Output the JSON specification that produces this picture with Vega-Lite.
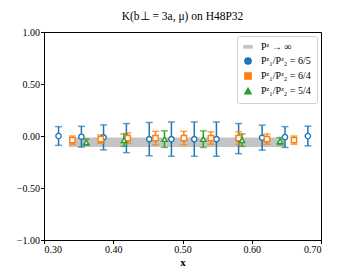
{
  "$schema": "https://vega.github.io/schema/vega-lite/v6.json",
  "width": 277,
  "height": 208,
  "autosize": {"type": "none"},
  "padding": {"left": 44, "top": 32, "right": 36, "bottom": 28},
  "config": {
    "font": "Liberation Serif",
    "view": {"stroke": "black", "strokeWidth": 1},
    "axis": {"labelFont": "Liberation Serif", "labelFontSize": 10, "labelColor": "black", "domainColor": "black", "tickColor": "black", "tickSize": 3.5, "labelPadding": 1, "grid": false, "titleFont": "Liberation Serif", "titleColor": "black", "titleFontWeight": "normal"}
  },
  "title": {"text": "K(b⊥ = 3a, μ) on H48P32", "fontSize": 11.5, "fontWeight": "normal", "font": "Liberation Serif", "color": "black", "offset": 5},
  "datasets": {
    "band": [{"series": "Pᶻ → ∞", "x": 0.336, "x2": 0.648, "lo": -0.105, "hi": -0.015}],
    "pts": [
      {"series": "Pᶻ₁/Pᶻ₂ = 6/5", "x": 0.321, "y": 0.0, "lo": -0.09, "hi": 0.09},
      {"series": "Pᶻ₁/Pᶻ₂ = 6/5", "x": 0.354, "y": -0.007, "lo": -0.107, "hi": 0.093},
      {"series": "Pᶻ₁/Pᶻ₂ = 6/5", "x": 0.386, "y": -0.013, "lo": -0.133, "hi": 0.107},
      {"series": "Pᶻ₁/Pᶻ₂ = 6/5", "x": 0.419, "y": -0.02, "lo": -0.16, "hi": 0.12},
      {"series": "Pᶻ₁/Pᶻ₂ = 6/5", "x": 0.452, "y": -0.03, "lo": -0.19, "hi": 0.13},
      {"series": "Pᶻ₁/Pᶻ₂ = 6/5", "x": 0.484, "y": -0.03, "lo": -0.195, "hi": 0.135},
      {"series": "Pᶻ₁/Pᶻ₂ = 6/5", "x": 0.517, "y": -0.03, "lo": -0.195, "hi": 0.135},
      {"series": "Pᶻ₁/Pᶻ₂ = 6/5", "x": 0.549, "y": -0.03, "lo": -0.195, "hi": 0.135},
      {"series": "Pᶻ₁/Pᶻ₂ = 6/5", "x": 0.581, "y": -0.025, "lo": -0.17, "hi": 0.12},
      {"series": "Pᶻ₁/Pᶻ₂ = 6/5", "x": 0.615, "y": -0.016, "lo": -0.136, "hi": 0.104},
      {"series": "Pᶻ₁/Pᶻ₂ = 6/5", "x": 0.648, "y": -0.01, "lo": -0.11, "hi": 0.09},
      {"series": "Pᶻ₁/Pᶻ₂ = 6/5", "x": 0.681, "y": 0.0, "lo": -0.095, "hi": 0.095},
      {"series": "Pᶻ₁/Pᶻ₂ = 6/4", "x": 0.341, "y": -0.04, "lo": -0.08, "hi": 0.0},
      {"series": "Pᶻ₁/Pᶻ₂ = 6/4", "x": 0.382, "y": -0.03, "lo": -0.07, "hi": 0.01},
      {"series": "Pᶻ₁/Pᶻ₂ = 6/4", "x": 0.421, "y": -0.02, "lo": -0.07, "hi": 0.03},
      {"series": "Pᶻ₁/Pᶻ₂ = 6/4", "x": 0.461, "y": -0.02, "lo": -0.085, "hi": 0.045},
      {"series": "Pᶻ₁/Pᶻ₂ = 6/4", "x": 0.502, "y": -0.02, "lo": -0.085, "hi": 0.045},
      {"series": "Pᶻ₁/Pᶻ₂ = 6/4", "x": 0.541, "y": -0.02, "lo": -0.08, "hi": 0.04},
      {"series": "Pᶻ₁/Pᶻ₂ = 6/4", "x": 0.581, "y": -0.02, "lo": -0.08, "hi": 0.04},
      {"series": "Pᶻ₁/Pᶻ₂ = 6/4", "x": 0.622, "y": -0.03, "lo": -0.08, "hi": 0.02},
      {"series": "Pᶻ₁/Pᶻ₂ = 6/4", "x": 0.661, "y": -0.04, "lo": -0.08, "hi": 0.0},
      {"series": "Pᶻ₁/Pᶻ₂ = 5/4", "x": 0.361, "y": -0.06, "lo": -0.09, "hi": -0.03},
      {"series": "Pᶻ₁/Pᶻ₂ = 5/4", "x": 0.4155, "y": -0.04, "lo": -0.1, "hi": 0.02},
      {"series": "Pᶻ₁/Pᶻ₂ = 5/4", "x": 0.474, "y": -0.03, "lo": -0.11, "hi": 0.05},
      {"series": "Pᶻ₁/Pᶻ₂ = 5/4", "x": 0.530, "y": -0.03, "lo": -0.11, "hi": 0.05},
      {"series": "Pᶻ₁/Pᶻ₂ = 5/4", "x": 0.586, "y": -0.04, "lo": -0.1, "hi": 0.02},
      {"series": "Pᶻ₁/Pᶻ₂ = 5/4", "x": 0.641, "y": -0.05, "lo": -0.085, "hi": -0.015}
    ]
  },
  "layer": [
    {
      "data": {"name": "band"},
      "mark": {"type": "rect", "opacity": 1, "color": "#c4c4c4"},
      "encoding": {
        "x": {"field": "x", "type": "quantitative", "scale": {"domain": [0.3, 0.7]}},
        "x2": {"field": "x2"},
        "y": {"field": "lo", "type": "quantitative", "scale": {"domain": [-1, 1]}},
        "y2": {"field": "hi"}
      }
    },
    {
      "mark": {"type": "rule", "color": "black", "strokeDash": [3, 2], "strokeWidth": 1},
      "encoding": {"y": {"datum": 0}}
    },
    {
      "data": {"name": "pts"},
      "mark": {"type": "rule", "strokeWidth": 1.5},
      "encoding": {
        "x": {"field": "x", "type": "quantitative"},
        "y": {"field": "lo", "type": "quantitative"},
        "y2": {"field": "hi"},
        "color": {"field": "series", "type": "nominal", "title": null, "legend": {"orient": "top-right", "offset": 4, "strokeColor": "#d0d0d0", "fillColor": "white", "cornerRadius": 2, "padding": 6, "labelFontSize": 10, "labelFont": "Liberation Serif", "labelColor": "black", "symbolSize": 40, "symbolStrokeWidth": 1.4, "symbolFillColor": "white", "symbolOpacity": 1, "rowPadding": 3, "labelOffset": 8, "encode": {"symbols": {"update": {"fill": {"value": "white"}, "fillOpacity": {"value": 1}, "opacity": {"value": 1}}}}}}
      }
    },
    {
      "data": {"name": "pts"},
      "mark": {"type": "tick", "orient": "horizontal", "size": 7, "thickness": 1.5},
      "encoding": {
        "x": {"field": "x", "type": "quantitative"},
        "y": {"field": "lo", "type": "quantitative"},
        "color": {"field": "series", "type": "nominal", "title": null, "legend": {"orient": "top-right", "offset": 4, "strokeColor": "#d0d0d0", "fillColor": "white", "cornerRadius": 2, "padding": 6, "labelFontSize": 10, "labelFont": "Liberation Serif", "labelColor": "black", "symbolSize": 40, "symbolStrokeWidth": 1.4, "symbolFillColor": "white", "symbolOpacity": 1, "rowPadding": 3, "labelOffset": 8, "encode": {"symbols": {"update": {"fill": {"value": "white"}, "fillOpacity": {"value": 1}, "opacity": {"value": 1}}}}}}
      }
    },
    {
      "data": {"name": "pts"},
      "mark": {"type": "tick", "orient": "horizontal", "size": 7, "thickness": 1.5},
      "encoding": {
        "x": {"field": "x", "type": "quantitative"},
        "y": {"field": "hi", "type": "quantitative"},
        "color": {"field": "series", "type": "nominal", "title": null, "legend": {"orient": "top-right", "offset": 4, "strokeColor": "#d0d0d0", "fillColor": "white", "cornerRadius": 2, "padding": 6, "labelFontSize": 10, "labelFont": "Liberation Serif", "labelColor": "black", "symbolSize": 40, "symbolStrokeWidth": 1.4, "symbolFillColor": "white", "symbolOpacity": 1, "rowPadding": 3, "labelOffset": 8, "encode": {"symbols": {"update": {"fill": {"value": "white"}, "fillOpacity": {"value": 1}, "opacity": {"value": 1}}}}}}
      }
    },
    {
      "data": {"name": "pts"},
      "mark": {"type": "point", "filled": false, "fill": "white", "size": 28, "strokeWidth": 1.4, "opacity": 1},
      "encoding": {
        "x": {"field": "x", "type": "quantitative", "title": "x", "axis": {"values": [0.3, 0.35, 0.4, 0.45, 0.5, 0.55, 0.6, 0.65, 0.7], "format": ".2f", "titleFontSize": 11, "titleFontWeight": "bold", "titlePadding": 2}},
        "y": {"field": "y", "type": "quantitative", "title": null, "axis": {"values": [-1, -0.75, -0.5, -0.25, 0, 0.25, 0.5, 0.75, 1], "format": ".2f"}},
        "color": {"field": "series", "type": "nominal", "title": null, "scale": {"domain": ["Pᶻ → ∞", "Pᶻ₁/Pᶻ₂ = 6/5", "Pᶻ₁/Pᶻ₂ = 6/4", "Pᶻ₁/Pᶻ₂ = 5/4"], "range": ["#c4c4c4", "#1f77b4", "#ff7f0e", "#2ca02c"]}, "legend": {"orient": "top-right", "offset": 4, "strokeColor": "#d0d0d0", "fillColor": "white", "cornerRadius": 2, "padding": 6, "labelFontSize": 10, "labelFont": "Liberation Serif", "labelColor": "black", "symbolSize": 40, "symbolStrokeWidth": 1.4, "symbolFillColor": "white", "symbolOpacity": 1, "rowPadding": 3, "labelOffset": 8, "encode": {"symbols": {"update": {"fill": {"value": "white"}, "fillOpacity": {"value": 1}, "opacity": {"value": 1}}}}}},
        "shape": {"field": "series", "type": "nominal", "title": null, "scale": {"domain": ["Pᶻ → ∞", "Pᶻ₁/Pᶻ₂ = 6/5", "Pᶻ₁/Pᶻ₂ = 6/4", "Pᶻ₁/Pᶻ₂ = 5/4"], "range": ["M-1.5,-0.45H1.5M-1.5,-0.25H1.5M-1.5,-0.05H1.5M-1.5,0.15H1.5M-1.5,0.35H1.5", "circle", "square", "triangle-up"]}}
      }
    }
  ]
}
